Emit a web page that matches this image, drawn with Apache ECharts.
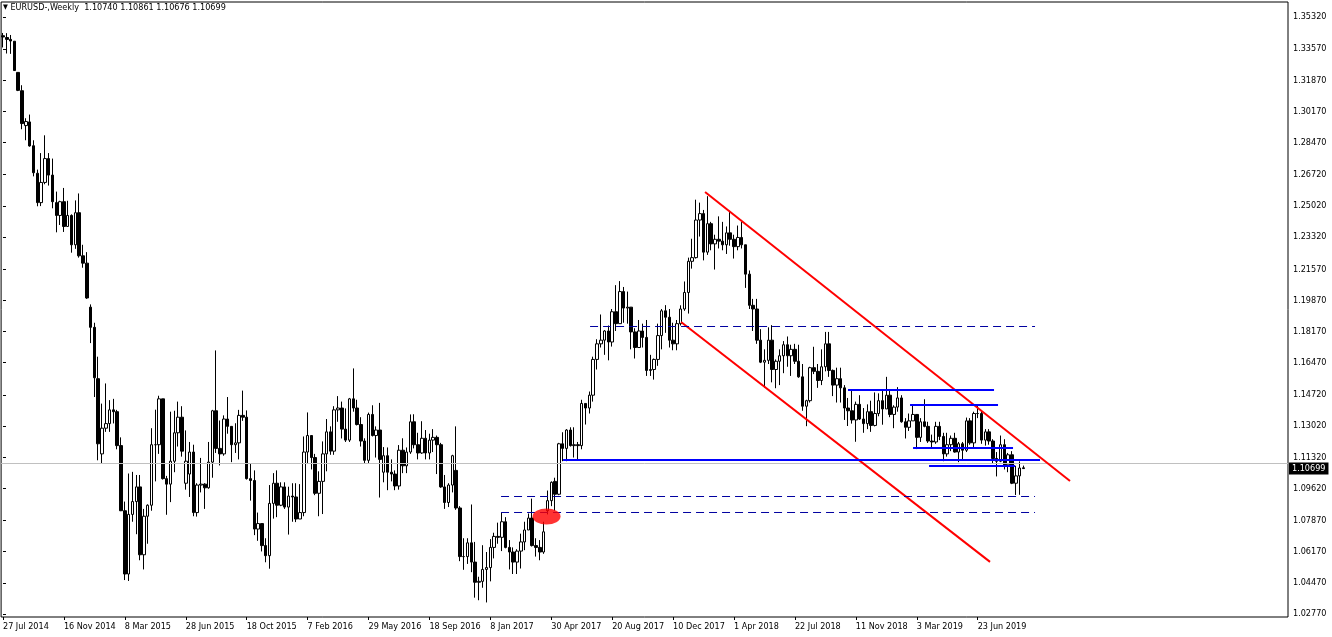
<!DOCTYPE html>
<html>
<head>
<meta charset="utf-8">
<script src="https://cdn.jsdelivr.net/npm/echarts@6.0.0/dist/echarts.min.js"></script>
<style>
html,body{margin:0;padding:0;background:#fff;}
#chart{width:1332px;height:637px;}
</style>
</head>
<body>
<div id="chart"></div>
<script>
// ---------- DATA (weekly bars, [open, high, low, close]) ----------
const symbolName = 'EURUSD-,Weekly';
const firstWeekUTC = Date.UTC(2014, 6, 27); // week of 27 Jul 2014
const MONTHS = ['Jan','Feb','Mar','Apr','May','Jun','Jul','Aug','Sep','Oct','Nov','Dec'];

const bars2014 = [
[1.3430,1.3445,1.3366,1.3423],[1.3420,1.3444,1.3333,1.3410],[1.3410,1.3434,1.3331,1.3401],[1.3400,1.3400,1.3238,1.3240],
[1.3230,1.3230,1.3128,1.3132],[1.3130,1.3160,1.2920,1.2951],[1.2940,1.2980,1.2860,1.2962],[1.2960,1.3000,1.2825,1.2829],
[1.2830,1.2860,1.2663,1.2683],[1.2680,1.2700,1.2500,1.2520],[1.2520,1.2790,1.2501,1.2630],[1.2630,1.2887,1.2620,1.2760],
[1.2760,1.2790,1.2613,1.2670],[1.2670,1.2760,1.2489,1.2525],[1.2520,1.2580,1.2358,1.2450],[1.2450,1.2530,1.2398,1.2525],
[1.2525,1.2600,1.2360,1.2390],[1.2390,1.2530,1.2388,1.2450],[1.2450,1.2456,1.2247,1.2290],[1.2290,1.2532,1.2268,1.2465],
[1.2465,1.2570,1.2220,1.2230],[1.2230,1.2290,1.2165,1.2190],[1.2190,1.2250,1.1995,1.2000]
];
const bars2015 = [
[1.1950,1.1965,1.1754,1.1840],[1.1840,1.1865,1.1460,1.1565],[1.1560,1.1680,1.1115,1.1205],[1.1150,1.1424,1.1098,1.1290],
[1.1290,1.1534,1.1270,1.1315],[1.1315,1.1443,1.1270,1.1390],[1.1390,1.1450,1.1316,1.1380],[1.1380,1.1390,1.1175,1.1195],
[1.1195,1.1240,1.0838,1.0840],[1.0840,1.0890,1.0462,1.0495],[1.0495,1.1043,1.0457,1.0820],[1.0820,1.1052,1.0780,1.0890],
[1.0890,1.1035,1.0712,1.0970],[1.0970,1.1035,1.0570,1.0600],[1.0600,1.0850,1.0520,1.0810],[1.0810,1.0875,1.0660,1.0870],
[1.0870,1.1290,1.0840,1.1200],[1.1200,1.1391,1.1000,1.1200],[1.1200,1.1467,1.1150,1.1450],[1.1450,1.1450,1.1010,1.1015],
[1.1015,1.1030,1.0818,1.0985],[1.0985,1.1380,1.0887,1.1110],[1.1110,1.1385,1.1050,1.1265],[1.1265,1.1435,1.1190,1.1350],
[1.1350,1.1410,1.1135,1.1165],[1.0990,1.1278,1.0955,1.1110],[1.1040,1.1215,1.0915,1.1160],[1.1160,1.1200,1.0810,1.0830],
[1.0830,1.0990,1.0808,1.0980],[1.0980,1.1128,1.0940,1.0985],[1.0985,1.0990,1.0850,1.0965],[1.0965,1.1215,1.0960,1.1105],
[1.1105,1.1390,1.1020,1.1385],[1.1385,1.1714,1.1155,1.1180],[1.1180,1.1332,1.1087,1.1150],[1.1150,1.1360,1.1140,1.1340],
[1.1340,1.1460,1.1260,1.1300],[1.1300,1.1300,1.1105,1.1200],[1.1200,1.1317,1.1155,1.1210],[1.1210,1.1390,1.1120,1.1360],
[1.1360,1.1495,1.1330,1.1350],[1.1350,1.1387,1.1010,1.1015],[1.1015,1.1095,1.0895,1.1005],[1.1005,1.1060,1.0707,1.0740],
[1.0740,1.0830,1.0676,1.0770],[1.0770,1.0770,1.0618,1.0650],[1.0650,1.0690,1.0559,1.0595],[1.0595,1.0980,1.0524,1.0880],
[1.0880,1.1045,1.0797,1.0990],[1.0990,1.1060,1.0805,1.0870],[1.0870,1.0995,1.0865,1.0970],[1.0970,1.0995,1.0850,1.0860]
];
const bars2016 = [
[1.0860,1.0971,1.0710,1.0920],[1.0920,1.0990,1.0780,1.0915],[1.0915,1.0990,1.0778,1.0795],[1.0795,1.0985,1.0795,1.0830],
[1.0830,1.1245,1.0810,1.1160],[1.1160,1.1376,1.1095,1.1250],[1.1250,1.1250,1.1065,1.1130],[1.1130,1.1150,1.0925,1.0935],
[1.0935,1.1055,1.0810,1.1000],[1.1000,1.1218,1.0822,1.1150],[1.1150,1.1340,1.1055,1.1270],[1.1270,1.1300,1.1145,1.1165],
[1.1165,1.1410,1.1145,1.1390],[1.1390,1.1465,1.1325,1.1400],[1.1400,1.1435,1.1234,1.1285],[1.1285,1.1398,1.1215,1.1225],
[1.1225,1.1455,1.1215,1.1450],[1.1450,1.1616,1.1380,1.1400],[1.1400,1.1445,1.1305,1.1310],[1.1310,1.1350,1.1190,1.1220],
[1.1220,1.1235,1.1098,1.1115],[1.1115,1.1375,1.1095,1.1365],[1.1365,1.1415,1.1245,1.1250],[1.1250,1.1300,1.1130,1.1280],
[1.1280,1.1428,1.0912,1.1120],[1.1050,1.1187,1.0995,1.1140],[1.1140,1.1185,1.0952,1.1050],[1.1050,1.1120,1.1000,1.1040],
[1.1040,1.1060,1.0952,1.0975],[1.0975,1.1198,1.0955,1.1170],[1.1170,1.1235,1.1045,1.1085],[1.1085,1.1185,1.1045,1.1160],
[1.1160,1.1365,1.1150,1.1325],[1.1325,1.1366,1.1180,1.1200],[1.1200,1.1265,1.1120,1.1155],[1.1155,1.1328,1.1150,1.1235],
[1.1235,1.1280,1.1120,1.1155],[1.1155,1.1260,1.1120,1.1225],[1.1225,1.1285,1.1160,1.1240],[1.1240,1.1250,1.1040,1.1200],
[1.1200,1.1210,1.0965,1.0970],[1.0970,1.1035,1.0850,1.0885],[1.0885,1.0990,1.0860,1.0980],[1.0980,1.1145,1.0940,1.1140],
[1.1060,1.1300,1.0845,1.0855],[1.0855,1.0865,1.0565,1.0590],[1.0590,1.0690,1.0518,1.0590],[1.0590,1.0690,1.0550,1.0665],
[1.0665,1.0874,1.0505,1.0560],[1.0560,1.0670,1.0366,1.0450],[1.0450,1.0480,1.0352,1.0455],[1.0455,1.0652,1.0420,1.0520]
];
const bars2017 = [
[1.0520,1.0615,1.0340,1.0530],[1.0530,1.0685,1.0455,1.0640],[1.0640,1.0720,1.0580,1.0700],[1.0700,1.0775,1.0660,1.0695],
[1.0695,1.0830,1.0620,1.0780],[1.0780,1.0805,1.0635,1.0640],[1.0640,1.0680,1.0520,1.0615],[1.0615,1.0640,1.0495,1.0560],
[1.0560,1.0630,1.0495,1.0620],[1.0620,1.0715,1.0525,1.0670],[1.0670,1.0780,1.0625,1.0735],[1.0735,1.0825,1.0735,1.0800],
[1.0800,1.0906,1.0645,1.0650],[1.0650,1.0690,1.0590,1.0640],[1.0640,1.0680,1.0570,1.0615],[1.0615,1.0780,1.0605,1.0725],
[1.0840,1.0950,1.0820,1.0895],[1.0895,1.1000,1.0865,1.0995],[1.1000,1.1020,1.0840,1.0930],[1.0930,1.1210,1.0925,1.1205],
[1.1205,1.1268,1.1110,1.1180],[1.1180,1.1285,1.1110,1.1280],[1.1280,1.1295,1.1190,1.1195],[1.1195,1.1295,1.1130,1.1200],
[1.1200,1.1215,1.1120,1.1195],[1.1195,1.1445,1.1175,1.1425],[1.1425,1.1425,1.1310,1.1400],[1.1400,1.1490,1.1370,1.1470],
[1.1470,1.1680,1.1435,1.1665],[1.1665,1.1775,1.1610,1.1750],[1.1750,1.1910,1.1730,1.1770],[1.1770,1.1825,1.1690,1.1820],
[1.1820,1.1850,1.1660,1.1760],[1.1760,1.1940,1.1735,1.1925],[1.1925,1.2070,1.1820,1.1860],[1.1860,1.2092,1.1860,1.2035],
[1.2035,1.2060,1.1865,1.1945],[1.1945,1.2035,1.1860,1.1950],[1.1950,1.1950,1.1720,1.1815],[1.1815,1.1835,1.1670,1.1730],
[1.1730,1.1880,1.1730,1.1820],[1.1820,1.1860,1.1730,1.1785],[1.1785,1.1880,1.1575,1.1605],[1.1605,1.1690,1.1575,1.1610],
[1.1610,1.1670,1.1555,1.1665],[1.1665,1.1860,1.1630,1.1795],[1.1795,1.1940,1.1720,1.1930],[1.1930,1.1961,1.1810,1.1895],
[1.1895,1.1940,1.1730,1.1770],[1.1770,1.1865,1.1715,1.1750],[1.1750,1.1880,1.1715,1.1860],[1.1860,1.1960,1.1850,1.1940],
[1.1940,1.2090,1.1930,1.2030]
];
const bars2018 = [
[1.2030,1.2220,1.1915,1.2200],[1.2200,1.2323,1.2160,1.2220],[1.2220,1.2536,1.2215,1.2425],[1.2425,1.2520,1.2335,1.2460],
[1.2460,1.2480,1.2205,1.2250],[1.2250,1.2555,1.2235,1.2405],[1.2405,1.2415,1.2260,1.2295],[1.2295,1.2345,1.2155,1.2320],
[1.2320,1.2445,1.2270,1.2310],[1.2310,1.2415,1.2260,1.2290],[1.2290,1.2390,1.2240,1.2355],[1.2355,1.2475,1.2285,1.2320],
[1.2320,1.2345,1.2215,1.2280],[1.2280,1.2395,1.2260,1.2330],[1.2330,1.2414,1.2270,1.2290],[1.2290,1.2290,1.2055,1.2130],
[1.2130,1.2150,1.1940,1.1960],[1.1960,1.1995,1.1820,1.1940],[1.1940,1.1995,1.1750,1.1770],[1.1770,1.1830,1.1645,1.1650],
[1.1650,1.1720,1.1510,1.1660],[1.1660,1.1840,1.1640,1.1770],[1.1770,1.1852,1.1540,1.1610],[1.1610,1.1665,1.1508,1.1655],
[1.1655,1.1720,1.1525,1.1685],[1.1685,1.1765,1.1590,1.1745],[1.1745,1.1790,1.1625,1.1685],[1.1685,1.1745,1.1575,1.1720],
[1.1720,1.1750,1.1640,1.1655],[1.1655,1.1745,1.1565,1.1570],[1.1570,1.1640,1.1385,1.1410],[1.1410,1.1445,1.1301,1.1440],
[1.1440,1.1625,1.1430,1.1620],[1.1620,1.1734,1.1585,1.1600],[1.1600,1.1640,1.1510,1.1550],[1.1550,1.1720,1.1525,1.1625],
[1.1625,1.1815,1.1600,1.1750],[1.1750,1.1815,1.1570,1.1605],[1.1605,1.1610,1.1465,1.1525],[1.1525,1.1620,1.1430,1.1560],
[1.1560,1.1620,1.1430,1.1510],[1.1510,1.1525,1.1335,1.1400],[1.1400,1.1455,1.1302,1.1385],[1.1385,1.1500,1.1315,1.1335],
[1.1335,1.1435,1.1216,1.1420],[1.1420,1.1470,1.1335,1.1340],[1.1340,1.1400,1.1265,1.1315],[1.1315,1.1420,1.1285,1.1380],
[1.1380,1.1440,1.1270,1.1305],[1.1305,1.1485,1.1300,1.1370],[1.1370,1.1480,1.1355,1.1440],[1.1440,1.1497,1.1309,1.1395]
];
const bars2019 = [
[1.1395,1.1570,1.1395,1.1470],[1.1470,1.1500,1.1350,1.1365],[1.1365,1.1415,1.1290,1.1405],[1.1405,1.1514,1.1380,1.1455],
[1.1455,1.1470,1.1320,1.1325],[1.1325,1.1345,1.1234,1.1295],[1.1295,1.1370,1.1275,1.1330],[1.1330,1.1420,1.1330,1.1365],
[1.1365,1.1365,1.1176,1.1240],[1.1240,1.1345,1.1215,1.1325],[1.1325,1.1448,1.1295,1.1300],[1.1300,1.1325,1.1210,1.1220],
[1.1220,1.1255,1.1183,1.1215],[1.1215,1.1325,1.1205,1.1300],[1.1300,1.1325,1.1225,1.1245],[1.1245,1.1265,1.1110,1.1150],
[1.1150,1.1265,1.1135,1.1200],[1.1200,1.1250,1.1165,1.1235],[1.1235,1.1265,1.1157,1.1160],[1.1160,1.1215,1.1105,1.1205],
[1.1205,1.1215,1.1115,1.1170],[1.1170,1.1348,1.1160,1.1330],[1.1330,1.1345,1.1200,1.1210],[1.1210,1.1380,1.1180,1.1370],
[1.1370,1.1412,1.1345,1.1370],[1.1370,1.1385,1.1205,1.1225],[1.1225,1.1285,1.1195,1.1270],[1.1270,1.1285,1.1200,1.1220],
[1.1220,1.1230,1.1100,1.1125],[1.1125,1.1160,1.1027,1.1110],[1.1110,1.1250,1.1105,1.1200],[1.1200,1.1230,1.1065,1.1090],
[1.1090,1.1155,1.1050,1.1145],[1.1145,1.1165,1.0985,1.0990],[1.0990,1.1085,1.0926,1.1030],[1.1030,1.1109,1.0927,1.1073],
[1.10740,1.10861,1.10676,1.10699]
];

// price-axis tick labels
const priceTicks = [1.35320,1.33570,1.31870,1.30170,1.28470,1.26720,1.25020,1.23320,1.21570,1.19870,
                    1.18170,1.16470,1.14720,1.13020,1.11320,1.09620,1.07870,1.06170,1.04470,1.02770];
const priceMin = 1.02606, priceMax = 1.36138;
const totalSlots = 338;      // bars + empty right shift
const dateLabelEvery = 16;

// drawn objects: point pairs [[bar, price],[bar, price]] and levels [barFrom, barTo, price]
const redChannelUpper = [[184.39, 1.2578], [280.25, 1.1002]];
const redChannelLower = [[178.09, 1.1869], [259.24, 1.0561]];
const blueLevels = [[147.1, 272.37, 1.11166], [221.94, 260.29, 1.14983], [238.23, 261.34, 1.14165],
                    [239.02, 265.28, 1.11820], [243.22, 265.80, 1.10839]];
const blueDashedLevels = [[154.19, 271.06, 1.18445], [130.81, 271.06, 1.09176], [130.81, 271.06, 1.08304]];
const gapMarker = [[142.76, 1.08085]];

// ---------- BUILD ----------
const bars = [].concat(bars2014, bars2015, bars2016, bars2017, bars2018, bars2019);
const categories = bars.map((b, i) => {
  const d = new Date(firstWeekUTC + i * 7 * 86400000);
  return d.getUTCDate() + ' ' + MONTHS[d.getUTCMonth()] + ' ' + d.getUTCFullYear();
});
while (categories.length < totalSlots) categories.push('');
const candleData = bars.map(b => [b[0], b[3], b[2], b[1]]);
const last = bars[bars.length - 1];
const lastClose = last[3];
const header = symbolName + '  ' + last.map(v => v.toFixed(5)).join(' ');

const FONT = "'DejaVu Sans Condensed', 'Liberation Sans', sans-serif";
const showDate = (idx, val) => val !== '' && idx % dateLabelEvery === 0;

const series = [{
  type: 'candlestick',
  xAxisIndex: 0, yAxisIndex: 0,
  data: candleData,
  barWidth: 3,
  itemStyle: { color: '#ffffff', color0: '#000000', borderColor: '#000000', borderColor0: '#000000', borderWidth: 1 },
  markLine: {
    silent: true, symbol: ['none', 'none'], animation: false,
    lineStyle: { color: '#c0c0c0', width: 1, type: 'solid' },
    label: { show: false },
    data: [{ yAxis: lastClose }]
  }
}];
function seg(points, color, width, type) {
  series.push({ type: 'line', xAxisIndex: 1, yAxisIndex: 0, data: points, symbol: 'none', silent: true,
    lineStyle: { color: color, width: width, type: type }, z: 5 });
}
seg(redChannelUpper, '#ff0000', 2, 'solid');
seg(redChannelLower, '#ff0000', 2, 'solid');
blueLevels.forEach(l => seg([[l[0], l[2]], [l[1], l[2]]], '#0000ff', 2, 'solid'));
blueDashedLevels.forEach(l => seg([[l[0], l[2]], [l[1], l[2]]], '#0000a0', 1, [8, 5]));
series.push({ type: 'scatter', xAxisIndex: 1, yAxisIndex: 0, data: gapMarker, symbol: 'circle',
  symbolSize: [28, 16], itemStyle: { color: '#ff0000' }, z: 6, silent: true });

const isLast = v => Math.abs(v - lastClose) < 1e-7;

const chart = echarts.init(document.getElementById('chart'), null, { renderer: 'canvas' });
chart.setOption({
  animation: false,
  backgroundColor: '#ffffff',
  title: { text: '{tri|▼} ' + header, left: 3, top: 3, padding: 0,
    textStyle: { fontSize: 9, fontWeight: 'normal', color: '#000', fontFamily: FONT,
      rich: { tri: { fontSize: 7, color: '#000' } } } },
  grid: { left: 1, right: 44, top: 2, bottom: 20, show: true, borderColor: '#000', borderWidth: 1, backgroundColor: '#fff' },
  xAxis: [{
    type: 'category', data: categories, boundaryGap: true,
    axisLine: { show: false },
    axisTick: { show: true, alignWithLabel: true, interval: showDate, length: 3, lineStyle: { color: '#000' } },
    axisLabel: { interval: showDate, align: 'left', fontSize: 9, color: '#000', margin: 5, fontFamily: FONT },
    splitLine: { show: false }
  }, {
    type: 'value', min: -0.5, max: totalSlots - 0.5, show: false
  }],
  yAxis: [{
    type: 'value', position: 'right', min: priceMin, max: priceMax, scale: true,
    axisLine: { show: false },
    splitLine: { show: false },
    axisTick: { show: true, customValues: priceTicks, length: 3, lineStyle: { color: '#000' } },
    axisLabel: {
      customValues: priceTicks.concat([lastClose]),
      margin: 1,
      formatter: v => isLast(v) ? '{cur|' + v.toFixed(5) + '}' : '{n|' + v.toFixed(5) + '}',
      rich: {
        n: { fontSize: 9, color: '#000', fontFamily: FONT, padding: [0, 0, 0, 4] },
        cur: { fontSize: 9, color: '#fff', fontFamily: FONT, backgroundColor: '#000', padding: [2, 3, 1, 3] }
      }
    }
  }],
  series: series
});
</script>
</body>
</html>
